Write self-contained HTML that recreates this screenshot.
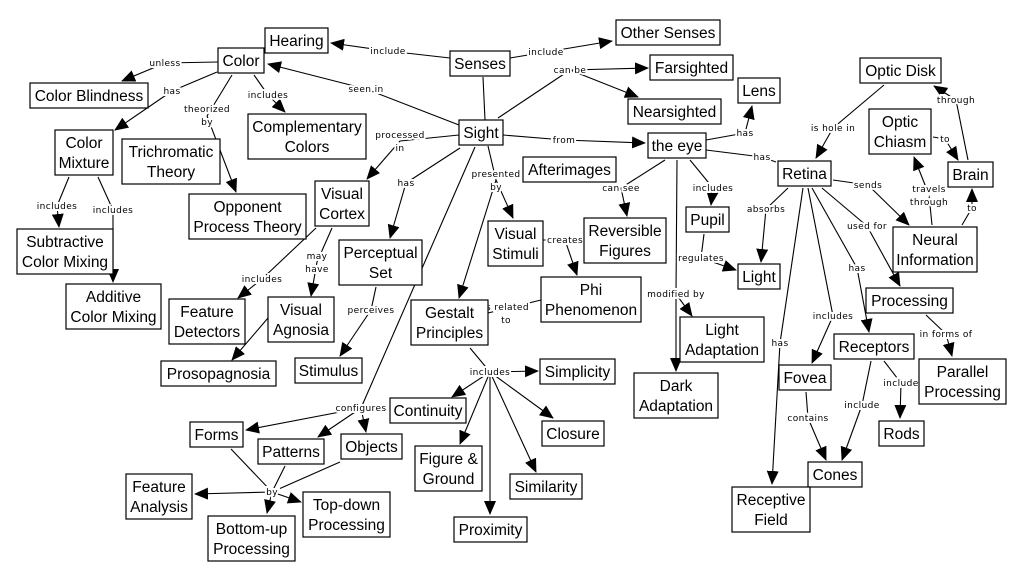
<!DOCTYPE html>
<html><head><meta charset="utf-8"><style>
html,body{margin:0;padding:0;background:#fff}
svg{display:block}
.n rect{fill:#fff;stroke:#000;stroke-width:1.2}
.n text{font-family:"Liberation Sans",sans-serif;font-size:15.5px;text-anchor:middle;fill:#000}
.l{stroke:#000;stroke-width:1.1;fill:none}
.a{stroke:#000;stroke-width:1.1;fill:none;marker-end:url(#ar)}
.t{font-family:"DejaVu Sans",sans-serif;font-size:9px;text-anchor:middle;fill:#000;stroke:#fff;stroke-width:4;paint-order:stroke;letter-spacing:0.4px}
</style></head><body>
<svg width="1020" height="581" viewBox="0 0 1020 581" xmlns="http://www.w3.org/2000/svg">
<defs><marker id="ar" markerUnits="userSpaceOnUse" markerWidth="14" markerHeight="12" refX="13" refY="6" orient="auto"><path d="M0,0 L14,6 L0,12 z" fill="#000"/></marker></defs>
<g>
<path class="l" d="M450,58 L388,51"/><path class="a" d="M388,51 L331,43"/>
<path class="l" d="M510,58 L546,52"/><path class="a" d="M546,52 L612,41"/>
<path class="l" d="M498,118 L570,70"/><path class="a" d="M570,70 L648,68"/><path class="a" d="M570,70 L638,97"/>
<path class="l" d="M483,77 L485,120"/>
<path class="l" d="M459,125 L366,89"/><path class="a" d="M366,89 L268,64"/>
<path class="l" d="M218,62 L165,63"/><path class="a" d="M165,63 L122,81"/>
<path class="l" d="M217,72 L172,91"/><path class="a" d="M172,91 L115,130"/>
<path class="l" d="M232,75 L207,116"/><path class="a" d="M207,116 L236,192"/>
<path class="l" d="M254,75 L268,95"/><path class="a" d="M268,95 L285,112"/>
<path class="l" d="M459,135 L400,141"/><path class="a" d="M400,141 L367,179"/>
<path class="l" d="M460,148 L406,183"/><path class="a" d="M406,183 L390,238"/>
<path class="l" d="M488,146 L496,180"/><path class="a" d="M496,180 L513,218"/><path class="a" d="M496,180 L459,298"/>
<path class="l" d="M475,147 L361,408"/><path class="a" d="M361,408 L246,430"/><path class="a" d="M361,408 L318,437"/><path class="a" d="M361,408 L366,432"/>
<path class="l" d="M503,135 L564,140"/><path class="a" d="M564,140 L645,143"/>
<path class="l" d="M69,177 L57,206"/><path class="a" d="M57,206 L59,227"/>
<path class="l" d="M98,177 L113,210"/><path class="a" d="M113,210 L113,282"/>
<path class="l" d="M316,228 L262,279"/><path class="a" d="M262,279 L238,298"/>
<path class="l" d="M332,228 L317,262"/><path class="a" d="M317,262 L311,296"/>
<path class="a" d="M268,318 L232,360"/>
<path class="l" d="M376,287 L371,310"/><path class="a" d="M371,310 L340,356"/>
<path class="l" d="M488,313 L541,300"/>
<path class="l" d="M470,348 L490,372"/><path class="a" d="M490,372 L538,371"/><path class="a" d="M490,372 L452,397"/><path class="a" d="M490,372 L460,444"/><path class="a" d="M490,372 L490,514"/><path class="a" d="M490,372 L536,472"/><path class="a" d="M490,372 L553,418"/>
<path class="l" d="M665,160 L621,188"/><path class="a" d="M621,188 L627,216"/>
<path class="l" d="M690,160 L713,188"/><path class="a" d="M713,188 L711,205"/>
<path class="l" d="M677,160 L676,294"/><path class="a" d="M676,294 L692,316"/><path class="a" d="M676,294 L676,371"/>
<path class="l" d="M706,140 L745,133"/><path class="a" d="M745,133 L752,106"/>
<path class="l" d="M706,150 L762,157"/><path class="l" d="M762,157 L776,162"/>
<path class="l" d="M704,234 L701,258"/><path class="a" d="M701,258 L736,270"/>
<path class="l" d="M543,240 L565,240"/><path class="a" d="M565,240 L577,275"/>
<path class="l" d="M788,188 L766,209"/><path class="a" d="M766,209 L761,262"/>
<path class="l" d="M884,85 L833,128"/><path class="a" d="M833,128 L816,158"/>
<path class="l" d="M833,180 L868,185"/><path class="a" d="M868,185 L909,225"/>
<path class="l" d="M932,225 L929,195"/><path class="a" d="M929,195 L914,157"/>
<path class="l" d="M962,225 L972,208"/><path class="a" d="M972,208 L972,189"/>
<path class="l" d="M933,137 L945,139"/><path class="a" d="M945,139 L958,160"/>
<path class="l" d="M968,160 L956,100"/><path class="a" d="M956,100 L934,86"/>
<path class="l" d="M822,188 L867,226"/><path class="a" d="M867,226 L900,286"/>
<path class="l" d="M812,188 L857,268"/><path class="a" d="M857,268 L869,332"/>
<path class="l" d="M808,188 L833,316"/><path class="a" d="M833,316 L812,363"/>
<path class="l" d="M803,188 L780,343"/><path class="a" d="M780,343 L772,484"/>
<path class="l" d="M926,315 L946,334"/><path class="a" d="M946,334 L952,356"/>
<path class="l" d="M884,361 L901,383"/><path class="a" d="M901,383 L900,418"/>
<path class="l" d="M871,361 L862,405"/><path class="a" d="M862,405 L842,460"/>
<path class="l" d="M806,392 L808,418"/><path class="a" d="M808,418 L826,460"/>
<path class="l" d="M231,449 L272,492"/><path class="l" d="M285,466 L272,492"/><path class="l" d="M340,462 L272,492"/>
<path class="a" d="M272,492 L195,494"/><path class="a" d="M272,492 L267,513"/><path class="a" d="M272,492 L301,502"/>
</g>
<g>
<text class="t" x="388" y="54">include</text>
<text class="t" x="546" y="55">include</text>
<text class="t" x="570" y="73">can be</text>
<text class="t" x="366" y="92">seen in</text>
<text class="t" x="165" y="66">unless</text>
<text class="t" x="172" y="94">has</text>
<text class="t" x="207" y="112">theorized</text><text class="t" x="207" y="125">by</text>
<text class="t" x="268" y="98">includes</text>
<text class="t" x="400" y="138">processed</text><text class="t" x="400" y="151">in</text>
<text class="t" x="406" y="186">has</text>
<text class="t" x="496" y="177">presented</text><text class="t" x="496" y="190">by</text>
<text class="t" x="361" y="411">configures</text>
<text class="t" x="564" y="143">from</text>
<text class="t" x="57" y="209">includes</text>
<text class="t" x="113" y="213">includes</text>
<text class="t" x="262" y="282">includes</text>
<text class="t" x="317" y="259">may</text><text class="t" x="317" y="272">have</text>
<text class="t" x="371" y="313">perceives</text>
<text class="t" x="506" y="310">is related</text><text class="t" x="506" y="323">to</text>
<text class="t" x="490" y="375">includes</text>
<text class="t" x="621" y="191">can see</text>
<text class="t" x="713" y="191">includes</text>
<text class="t" x="676" y="297">modified by</text>
<text class="t" x="745" y="136">has</text>
<text class="t" x="762" y="160">has</text>
<text class="t" x="701" y="261">regulates</text>
<text class="t" x="565" y="243">creates</text>
<text class="t" x="766" y="212">absorbs</text>
<text class="t" x="833" y="131">is hole in</text>
<text class="t" x="868" y="188">sends</text>
<text class="t" x="929" y="192">travels</text><text class="t" x="929" y="205">through</text>
<text class="t" x="972" y="211">to</text>
<text class="t" x="945" y="142">to</text>
<text class="t" x="956" y="103">through</text>
<text class="t" x="867" y="229">used for</text>
<text class="t" x="857" y="271">has</text>
<text class="t" x="833" y="319">includes</text>
<text class="t" x="780" y="346">has</text>
<text class="t" x="946" y="337">in forms of</text>
<text class="t" x="901" y="386">include</text>
<text class="t" x="862" y="408">include</text>
<text class="t" x="808" y="421">contains</text>
<text class="t" x="272" y="495">by</text>
</g>
<g class="n">
<rect x="265" y="28" width="63" height="25"/><text x="296.5" y="46">Hearing</text>
<rect x="218" y="48" width="46" height="25"/><text x="241" y="66">Color</text>
<rect x="450" y="51" width="60" height="25"/><text x="480" y="69">Senses</text>
<rect x="30" y="83" width="118" height="25"/><text x="89" y="101">Color Blindness</text>
<rect x="55" y="130" width="58" height="45"/><text x="84" y="148">Color</text><text x="84" y="168">Mixture</text>
<rect x="122" y="139" width="98" height="45"/><text x="171" y="157">Trichromatic</text><text x="171" y="177">Theory</text>
<rect x="248" y="114" width="118" height="45"/><text x="307" y="132">Complementary</text><text x="307" y="152">Colors</text>
<rect x="459" y="120" width="44" height="25"/><text x="481" y="138">Sight</text>
<rect x="189" y="194" width="117" height="45"/><text x="247.5" y="212">Opponent</text><text x="247.5" y="232">Process Theory</text>
<rect x="315" y="181" width="54" height="45"/><text x="342" y="199">Visual</text><text x="342" y="219">Cortex</text>
<rect x="339" y="240" width="83" height="45"/><text x="380.5" y="258">Perceptual</text><text x="380.5" y="278">Set</text>
<rect x="488" y="221" width="55" height="45"/><text x="515.5" y="239">Visual</text><text x="515.5" y="259">Stimuli</text>
<rect x="17" y="229" width="96" height="45"/><text x="65" y="247">Subtractive</text><text x="65" y="267">Color Mixing</text>
<rect x="66" y="284" width="95" height="45"/><text x="113.5" y="302">Additive</text><text x="113.5" y="322">Color Mixing</text>
<rect x="616" y="20" width="104" height="25"/><text x="668" y="38">Other Senses</text>
<rect x="650" y="55" width="83" height="25"/><text x="691.5" y="73">Farsighted</text>
<rect x="738" y="78" width="42" height="25"/><text x="759" y="96">Lens</text>
<rect x="628" y="99" width="93" height="25"/><text x="674.5" y="117">Nearsighted</text>
<rect x="648" y="133" width="58" height="25"/><text x="677" y="151">the eye</text>
<rect x="523" y="157" width="93" height="25"/><text x="569.5" y="175">Afterimages</text>
<rect x="860" y="58" width="81" height="25"/><text x="900.5" y="76">Optic Disk</text>
<rect x="869" y="109" width="62" height="45"/><text x="900" y="127">Optic</text><text x="900" y="147">Chiasm</text>
<rect x="778" y="161" width="53" height="25"/><text x="804.5" y="179">Retina</text>
<rect x="948" y="162" width="45" height="25"/><text x="970.5" y="180">Brain</text>
<rect x="584" y="218" width="82" height="45"/><text x="625" y="236">Reversible</text><text x="625" y="256">Figures</text>
<rect x="686" y="207" width="43" height="25"/><text x="707.5" y="225">Pupil</text>
<rect x="893" y="227" width="84" height="45"/><text x="935" y="245">Neural</text><text x="935" y="265">Information</text>
<rect x="738" y="264" width="42" height="25"/><text x="759" y="282">Light</text>
<rect x="866" y="288" width="87" height="25"/><text x="909.5" y="306">Processing</text>
<rect x="541" y="277" width="100" height="45"/><text x="591" y="295">Phi</text><text x="591" y="315">Phenomenon</text>
<rect x="169" y="299" width="76" height="45"/><text x="207" y="317">Feature</text><text x="207" y="337">Detectors</text>
<rect x="268" y="297" width="66" height="45"/><text x="301" y="315">Visual</text><text x="301" y="335">Agnosia</text>
<rect x="411" y="300" width="77" height="45"/><text x="449.5" y="318">Gestalt</text><text x="449.5" y="338">Principles</text>
<rect x="680" y="317" width="84" height="45"/><text x="722" y="335">Light</text><text x="722" y="355">Adaptation</text>
<rect x="161" y="361" width="115" height="25"/><text x="218.5" y="379">Prosopagnosia</text>
<rect x="295" y="358" width="67" height="25"/><text x="328.5" y="376">Stimulus</text>
<rect x="834" y="334" width="80" height="25"/><text x="874" y="352">Receptors</text>
<rect x="634" y="373" width="84" height="45"/><text x="676" y="391">Dark</text><text x="676" y="411">Adaptation</text>
<rect x="540" y="359" width="75" height="25"/><text x="577.5" y="377">Simplicity</text>
<rect x="919" y="359" width="87" height="45"/><text x="962.5" y="377">Parallel</text><text x="962.5" y="397">Processing</text>
<rect x="779" y="365" width="52" height="25"/><text x="805" y="383">Fovea</text>
<rect x="390" y="398" width="76" height="25"/><text x="428" y="416">Continuity</text>
<rect x="190" y="422" width="53" height="25"/><text x="216.5" y="440">Forms</text>
<rect x="542" y="421" width="62" height="25"/><text x="573" y="439">Closure</text>
<rect x="258" y="439" width="66" height="25"/><text x="291" y="457">Patterns</text>
<rect x="341" y="434" width="61" height="25"/><text x="371.5" y="452">Objects</text>
<rect x="879" y="421" width="45" height="25"/><text x="901.5" y="439">Rods</text>
<rect x="415" y="446" width="67" height="45"/><text x="448.5" y="464">Figure &amp;</text><text x="448.5" y="484">Ground</text>
<rect x="510" y="474" width="72" height="25"/><text x="546" y="492">Similarity</text>
<rect x="808" y="462" width="54" height="25"/><text x="835" y="480">Cones</text>
<rect x="126" y="474" width="66" height="45"/><text x="159" y="492">Feature</text><text x="159" y="512">Analysis</text>
<rect x="303" y="492" width="87" height="45"/><text x="346.5" y="510">Top-down</text><text x="346.5" y="530">Processing</text>
<rect x="732" y="487" width="78" height="45"/><text x="771" y="505">Receptive</text><text x="771" y="525">Field</text>
<rect x="208" y="516" width="87" height="45"/><text x="251.5" y="534">Bottom-up</text><text x="251.5" y="554">Processing</text>
<rect x="454" y="517" width="73" height="25"/><text x="490.5" y="535">Proximity</text>
</g>
</svg>
</body></html>
